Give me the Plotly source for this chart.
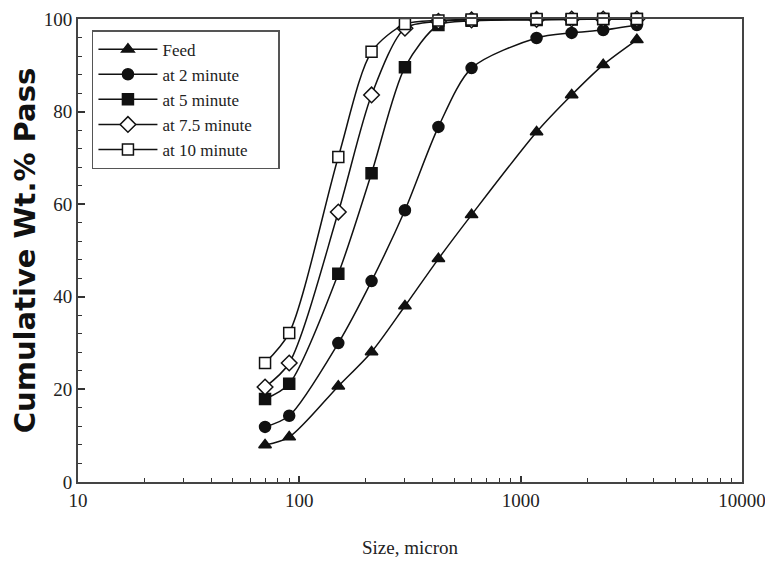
import plotly.graph_objects as go

sizes = [70, 90, 150, 212, 300, 425, 600, 1180, 1700, 2360, 3350]

feed = [8.0, 9.7, 20.7, 28.1, 38.0, 48.2, 57.7, 75.6, 83.6, 90.1, 95.5]
min2 = [11.9, 14.3, 30.0, 43.4, 58.7, 76.7, 89.4, 95.9, 97.0, 97.6, 98.7]
min5 = [17.9, 21.2, 45.0, 66.7, 89.6, 98.7, 99.6, 99.8, 99.9, 100.0, 100.0]
min75 = [20.5, 25.7, 58.3, 83.6, 98.0, 99.5, 99.8, 99.9, 100.0, 100.0, 100.0]
min10 = [25.7, 32.2, 70.2, 92.9, 98.9, 99.7, 99.9, 100.0, 100.0, 100.0, 100.0]

x_major = [10, 100, 1000, 10000]
x_major_text = ["10", "100", "1000", "10000"]
x_minor = [20, 30, 40, 50, 60, 70, 80, 90,
           200, 300, 400, 500, 600, 700, 800, 900,
           2000, 3000, 4000, 5000, 6000, 7000, 8000, 9000]

series = [
    ("Feed", feed, "triangle-up", "#111111"),
    ("at 2 minute", min2, "circle", "#111111"),
    ("at 5 minute", min5, "square", "#111111"),
    ("at 7.5 minute", min75, "diamond", "white"),
    ("at 10 minute", min10, "square", "white"),
]

NB = "&nbsp;" * 5

fig = go.Figure()
for name, vals, sym, fill in series:
    fig.add_trace(go.Scatter(
        x=sizes, y=vals, name=name + NB, mode="lines+markers",
        line=dict(color="#111111", width=1.5, shape="spline", smoothing=0.8),
        marker=dict(symbol=sym, size=12 if sym == "diamond" else 11, color=fill,
                    line=dict(color="#111111", width=1.5)),
        cliponaxis=False,
    ))

serif = "Liberation Serif, Times New Roman, serif"
axis_font = dict(family=serif, size=19, color="#222222")

fig.update_layout(
    width=773, height=561,
    margin=dict(l=70, r=39, t=11, b=87),
    paper_bgcolor="white", plot_bgcolor="white",
    showlegend=True,
    legend=dict(
        x=0.021, y=0.976, xanchor="left", yanchor="top",
        bordercolor="#555555", borderwidth=1.5, bgcolor="white",
        font=dict(family=serif, size=17, color="#222222"),
        tracegroupgap=0, itemwidth=59,
    ),
    xaxis=dict(
        type="log", range=[1, 4], automargin=False,
        tickvals=x_major, ticktext=x_major_text,
        ticks="inside", ticklen=6, tickwidth=1.5, tickcolor="#333333",
        minor=dict(tickvals=x_minor, ticks="inside", ticklen=4, tickwidth=1.2,
                   tickcolor="#333333", showgrid=False),
        showline=True, linecolor="#444444", linewidth=2, mirror=True,
        showgrid=False, zeroline=False,
        tickfont=axis_font,
        title=dict(text="Size, micron", font=dict(family=serif, size=19, color="#222222"), standoff=31),
    ),
    yaxis=dict(
        range=[0, 100], dtick=20, automargin=False,
        ticks="inside", ticklen=7, tickwidth=1.5, tickcolor="#333333",
        minor=dict(dtick=4, ticks="inside", ticklen=4, tickwidth=1.2, tickcolor="#333333", showgrid=False),
        showline=True, linecolor="#444444", linewidth=2, mirror=True,
        showgrid=False, zeroline=False,
        tickfont=axis_font,
        title=dict(text="Cumulative Wt.% Pass",
                   font=dict(family="DejaVu Sans, sans-serif", size=29, color="#111111", weight="bold"),
                   standoff=4),
    ),
)

fig.write_html("out.html")
